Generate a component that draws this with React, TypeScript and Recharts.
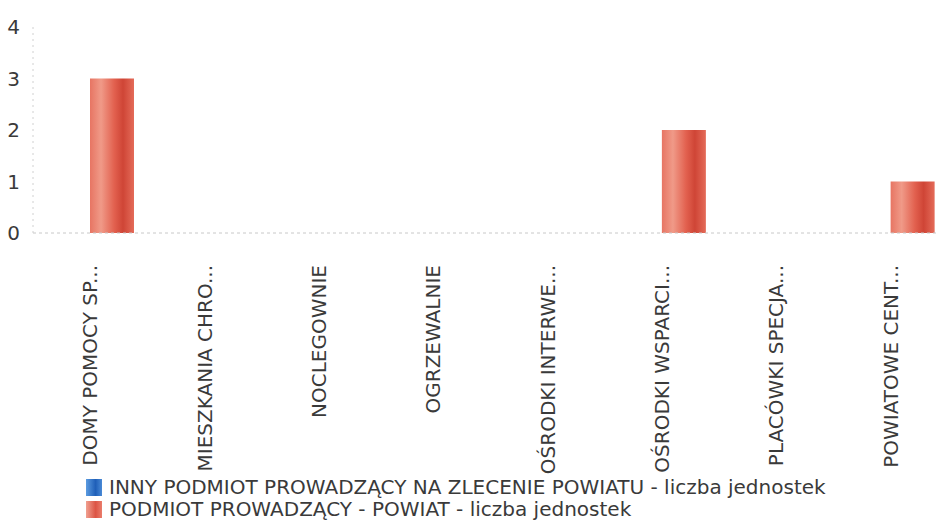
import { BarChart, Bar, XAxis, YAxis, Legend } from "recharts";

const categories = [
  "DOMY POMOCY SP...",
  "MIESZKANIA CHRO...",
  "NOCLEGOWNIE",
  "OGRZEWALNIE",
  "OŚRODKI INTERWE...",
  "OŚRODKI WSPARCI...",
  "PLACÓWKI SPECJA...",
  "POWIATOWE CENT...",
];
const innyPodmiot = [0, 0, 0, 0, 0, 0, 0, 0];
const powiat = [3, 0, 0, 0, 0, 2, 0, 1];
const yTicks = [0, 1, 2, 3, 4];

const seriesNames = [
  "INNY PODMIOT PROWADZĄCY NA ZLECENIE POWIATU - liczba jednostek",
  "PODMIOT PROWADZĄCY - POWIAT - liczba jednostek",
];

const data = categories.map((name, i) => ({
  name,
  inny: innyPodmiot[i],
  powiat: powiat[i],
}));

const font = "'DejaVu Sans', sans-serif";
const textColor = "#3a3a3a";

const XTick = (props: any) => {
  const { x, y, payload } = props;
  return (
    <g transform={`translate(${x},${y})`}>
      <text
        transform="rotate(-90)"
        x={-24}
        y={0}
        dy={7}
        textAnchor="end"
        fill={textColor}
        fontSize={20}
        fontFamily={font}
      >
        {payload.value}
      </text>
    </g>
  );
};

const LegendContent = () => (
  <div style={{ paddingLeft: 86, fontFamily: font, fontSize: 20, color: textColor, lineHeight: "22px" }}>
    {seriesNames.map((n, i) => (
      <div key={n} style={{ display: "flex", alignItems: "center", height: 22 }}>
        <span
          style={{
            display: "inline-block",
            width: 16,
            height: 17,
            marginRight: 7,
            background:
              i === 0
                ? "linear-gradient(90deg,#5b9be0,#1f5fb8 60%,#4a8ad6)"
                : "linear-gradient(90deg,#f0a090,#dc5444 60%,#ea7d6c)",
          }}
        />
        {n}
      </div>
    ))}
  </div>
);

export default function App() {
  return (
    <div style={{ position: "absolute", left: 0, top: 0, width: 936, height: 522, overflow: "hidden", background: "#fff" }}>
      <BarChart
        width={960}
        height={522}
        data={data}
        margin={{ top: 27, right: 12, bottom: 2, left: 0 }}
        barSize={44}
        barGap={0}
      >
        <defs>
          <linearGradient id="redBar" x1="0" y1="0" x2="1" y2="0">
            <stop offset="0%" stopColor="#e77563" />
            <stop offset="25%" stopColor="#f09a88" />
            <stop offset="55%" stopColor="#e2614f" />
            <stop offset="75%" stopColor="#cf4536" />
            <stop offset="100%" stopColor="#e46b59" />
          </linearGradient>
          <linearGradient id="blueBar" x1="0" y1="0" x2="1" y2="0">
            <stop offset="0%" stopColor="#5b9be0" />
            <stop offset="60%" stopColor="#1f5fb8" />
            <stop offset="100%" stopColor="#4a8ad6" />
          </linearGradient>
        </defs>
        <XAxis
          dataKey="name"
          interval={0}
          height={243}
          tick={<XTick />}
          tickLine={false}
          axisLine={{ stroke: "#c8c8c8", strokeDasharray: "3 3" }}
        />
        <YAxis
          width={33}
          domain={[0, 4]}
          ticks={yTicks}
          tickLine={false}
          tickMargin={7}
          axisLine={{ stroke: "#d0d0d0", strokeDasharray: "2 4" }}
          tick={{ fill: textColor, fontSize: 20, fontFamily: font }}
        />
        <Legend verticalAlign="bottom" align="left" content={<LegendContent />} />
        <Bar dataKey="inny" name={seriesNames[0]} fill="url(#blueBar)" isAnimationActive={false} />
        <Bar dataKey="powiat" name={seriesNames[1]} fill="url(#redBar)" isAnimationActive={false} />
      </BarChart>
    </div>
  );
}
